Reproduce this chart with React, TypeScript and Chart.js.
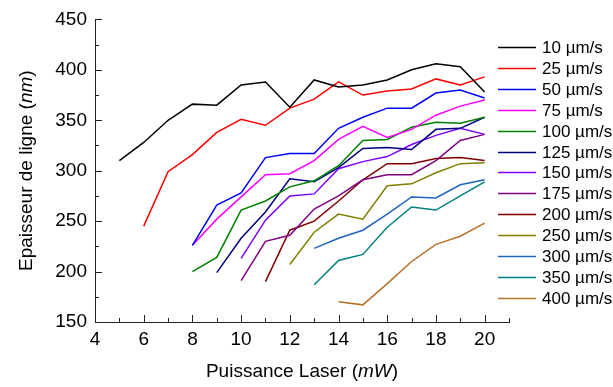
import React, { useEffect, useRef } from "react";
import { Chart, registerables } from "chart.js";

Chart.register(...registerables);

const power = [5, 6, 7, 8, 9, 10, 11, 12, 13, 14, 15, 16, 17, 18, 19, 20];
const speeds = ["10", "25", "50", "75", "100", "125", "150", "175", "200", "250", "300", "350", "400"];

const s10 = [310, 328, 350, 366, 365, 385, 388, 363, 390, 383, 385, 390, 400, 406, 403, 378];
const s25 = [null, 245, 299, 316, 338, 351, 345, 362, 371, 388, 375, 379, 381, 391, 385, 393];
const s50 = [null, null, null, 226, 266, 278, 313, 317, 317, 342, 353, 362, 362, 377, 380, 372];
const s75 = [null, null, null, 226, 252, 274, 296, 297, 310, 331, 344, 333, 341, 355, 364, 370];
const s100 = [null, null, null, 200, 214, 261, 270, 284, 290, 305, 330, 331, 343, 348, 347, 353];
const s125 = [null, null, null, null, 199, 233, 259, 292, 289, 303, 322, 323, 321, 341, 342, 353];
const s150 = [null, null, null, null, null, 213, 251, 275, 277, 302, 309, 314, 326, 335, 342, 336];
const s175 = [null, null, null, null, null, 191, 230, 236, 262, 275, 291, 296, 296, 310, 330, 336];
const s200 = [null, null, null, null, null, null, 190, 241, 250, 270, 291, 307, 307, 312, 313, 310];
const s250 = [null, null, null, null, null, null, null, 207, 239, 257, 252, 285, 287, 298, 307, 308];
const s300 = [null, null, null, null, null, null, null, null, 223, 233, 241, 257, 274, 273, 286, 291];
const s350 = [null, null, null, null, null, null, null, null, 187, 211, 217, 244, 264, 261, 275, 289];
const s400 = [null, null, null, null, null, null, null, null, null, 170, 167, 188, 210, 227, 235, 248];

const series = [s10, s25, s50, s75, s100, s125, s150, s175, s200, s250, s300, s350, s400];
const colors = [
  "#000000", "#ff0000", "#0000ff", "#ff00ff", "#008000", "#000080", "#8000ff",
  "#800080", "#800000", "#808000", "#1f64c0", "#008080", "#b8702a",
];

const yTicks = [150, 200, 250, 300, 350, 400, 450];
const xTicks = [4, 6, 8, 10, 12, 14, 16, 18, 20];

const FONT = "'Liberation Sans', Arial, sans-serif";

function drawMixed(ctx: CanvasRenderingContext2D, parts: [string, boolean][], size: number) {
  let total = 0;
  const widths = parts.map(([t, it]) => {
    ctx.font = `${it ? "italic " : ""}${size}px ${FONT}`;
    const w = ctx.measureText(t).width;
    total += w;
    return w;
  });
  let x = -total / 2;
  parts.forEach(([t, it], i) => {
    ctx.font = `${it ? "italic " : ""}${size}px ${FONT}`;
    ctx.fillText(t, x, 0);
    x += widths[i];
  });
}

const decor = {
  id: "decor",
  afterDraw(chart: any) {
    const ctx: CanvasRenderingContext2D = chart.ctx;
    const xs = chart.scales.x;
    const ys = chart.scales.y;
    const area = chart.chartArea;
    ctx.save();
    ctx.strokeStyle = "#222";
    ctx.lineWidth = 1;
    // inward ticks
    for (let v = 150; v <= 450; v += 25) {
      const py = Math.round(ys.getPixelForValue(v)) + 0.5;
      const len = v % 50 === 0 ? 7 : 4;
      ctx.beginPath();
      ctx.moveTo(area.left, py);
      ctx.lineTo(area.left + len, py);
      ctx.stroke();
    }
    for (let v = 4; v <= 21; v += 1) {
      const px = Math.round(xs.getPixelForValue(v)) + 0.5;
      const len = v % 2 === 0 ? 7 : 4;
      ctx.beginPath();
      ctx.moveTo(px, area.bottom);
      ctx.lineTo(px, area.bottom - len);
      ctx.stroke();
    }
    // axis titles
    ctx.fillStyle = "#000";
    ctx.textBaseline = "middle";
    ctx.textAlign = "left";
    ctx.save();
    ctx.translate((area.left + area.right) / 2, 372);
    drawMixed(ctx, [["Puissance Laser (", false], ["mW", true], [")", false]], 19);
    ctx.restore();
    ctx.save();
    ctx.translate(27, (area.top + area.bottom) / 2);
    ctx.rotate(-Math.PI / 2);
    drawMixed(ctx, [["Epaisseur de ligne (", false], ["nm", true], [")", false]], 19);
    ctx.restore();
    // legend
    chart.data.datasets.forEach((ds: any, i: number) => {
      const y = Math.round(47 + i * 20.9) + 0.5;
      ctx.strokeStyle = ds.borderColor;
      ctx.lineWidth = 1.5;
      ctx.beginPath();
      ctx.moveTo(498, y);
      ctx.lineTo(536, y);
      ctx.stroke();
      ctx.fillStyle = "#000";
      ctx.font = `17px ${FONT}`;
      ctx.textAlign = "left";
      ctx.textBaseline = "middle";
      ctx.fillText(ds.label, 542, y + 1);
    });
    ctx.restore();
  },
};

export default function App() {
  const ref = useRef<HTMLCanvasElement>(null);
  useEffect(() => {
    document.body.style.margin = "0";
    const datasets = series.map((arr, i) => ({
      label: `${speeds[i]} µm/s`,
      data: power
        .map((p, j) => ({ x: p, y: arr[j] }))
        .filter((d) => d.y !== null),
      borderColor: colors[i],
      backgroundColor: colors[i],
      borderWidth: 1.5,
      pointRadius: 0,
      tension: 0,
      fill: false,
    }));
    const chart = new Chart(ref.current!, {
      type: "line",
      data: { datasets },
      options: {
        responsive: false,
        animation: false,
        layout: { padding: { left: 0, right: 104, top: 18, bottom: 0 } },
        plugins: { legend: { display: false }, tooltip: { enabled: false } },
        scales: {
          x: {
            type: "linear",
            min: 4,
            max: 21,
            grid: { display: false, drawTicks: false },
            border: { display: true, color: "#222", width: 1 },
            ticks: {
              stepSize: 1,
              autoSkip: false,
              maxRotation: 0,
              padding: 6,
              color: "#000",
              font: { size: 19, family: FONT },
              callback: (v: any) => (xTicks.includes(Number(v)) ? String(v) : ""),
            },
            afterFit: (s: any) => {
              s.height = 65;
            },
          },
          y: {
            type: "linear",
            min: 150,
            max: 450,
            grid: { display: false, drawTicks: false },
            border: { display: true, color: "#222", width: 1 },
            ticks: {
              stepSize: 25,
              padding: 8,
              color: "#000",
              font: { size: 19, family: FONT },
              callback: (v: any) => (yTicks.includes(Number(v)) ? String(v) : ""),
            },
            afterFit: (s: any) => {
              s.width = 95;
            },
          },
        },
      },
      plugins: [decor],
    });
    return () => chart.destroy();
  }, []);
  return (
    <div style={{ position: "absolute", left: 0, top: 0, width: 613, height: 387 }}>
      <canvas ref={ref} width={613} height={387} style={{ display: "block" }} />
    </div>
  );
}
